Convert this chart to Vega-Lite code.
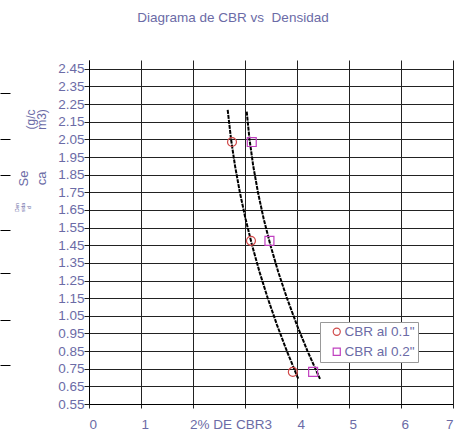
{
  "$schema": "https://vega.github.io/schema/vega-lite/v6.json",
  "width": 364,
  "height": 344,
  "autosize": {"type": "none"},
  "padding": {"left": 89, "top": 60, "right": 1, "bottom": 26},
  "background": "white",
  "config": {"font": "Liberation Sans", "view": {"stroke": null}},
  "title": {
    "text": "Diagrama de CBR vs\u00a0 Densidad",
    "fontSize": 13.5,
    "fontWeight": "normal",
    "color": "#6b6ba6",
    "anchor": "middle",
    "dx": -38,
    "baseline": "bottom",
    "offset": 22
  },
  "data": {
    "values": [
      {"kind": "point", "id": 1, "serie": "CBR al 0.1\"", "x": 2.75, "y": 2.035},
      {"kind": "point", "id": 1, "serie": "CBR al 0.1\"", "x": 3.115, "y": 1.475},
      {"kind": "point", "id": 1, "serie": "CBR al 0.1\"", "x": 3.92, "y": 0.732},
      {"kind": "point", "id": 2, "serie": "CBR al 0.2\"", "x": 3.13, "y": 2.035},
      {"kind": "point", "id": 2, "serie": "CBR al 0.2\"", "x": 3.47, "y": 1.475},
      {"kind": "point", "id": 2, "serie": "CBR al 0.2\"", "x": 4.31, "y": 0.732},
      {"kind": "curve", "id": 1, "x": 2.667, "y": 2.217},
      {"kind": "curve", "id": 1, "x": 2.732, "y": 2.05},
      {"kind": "curve", "id": 1, "x": 2.808, "y": 1.9},
      {"kind": "curve", "id": 1, "x": 2.901, "y": 1.75},
      {"kind": "curve", "id": 1, "x": 3.010, "y": 1.6},
      {"kind": "curve", "id": 1, "x": 3.136, "y": 1.45},
      {"kind": "curve", "id": 1, "x": 3.278, "y": 1.3},
      {"kind": "curve", "id": 1, "x": 3.437, "y": 1.15},
      {"kind": "curve", "id": 1, "x": 3.613, "y": 1.0},
      {"kind": "curve", "id": 1, "x": 3.805, "y": 0.85},
      {"kind": "curve", "id": 1, "x": 4.025, "y": 0.692},
      {"kind": "curve", "id": 2, "x": 3.033, "y": 2.207},
      {"kind": "curve", "id": 2, "x": 3.087, "y": 2.05},
      {"kind": "curve", "id": 2, "x": 3.158, "y": 1.9},
      {"kind": "curve", "id": 2, "x": 3.249, "y": 1.75},
      {"kind": "curve", "id": 2, "x": 3.359, "y": 1.6},
      {"kind": "curve", "id": 2, "x": 3.489, "y": 1.45},
      {"kind": "curve", "id": 2, "x": 3.638, "y": 1.3},
      {"kind": "curve", "id": 2, "x": 3.807, "y": 1.15},
      {"kind": "curve", "id": 2, "x": 3.995, "y": 1.0},
      {"kind": "curve", "id": 2, "x": 4.202, "y": 0.85},
      {"kind": "curve", "id": 2, "x": 4.442, "y": 0.692}
    ]
  },
  "encoding": {
    "x": {
      "field": "x",
      "type": "quantitative",
      "scale": {"domain": [0, 7], "nice": false, "zero": false},
      "axis": {
        "values": [0, 1, 2, 3, 4, 5, 6, 7],
        "labelExpr": "datum.value == 2 || datum.value == 3 ? '' : datum.label",
        "title": "2% DE CBR3",
        "titleX": 141.5,
        "titleY": 24,
        "titleAlign": "center",
        "titleBaseline": "alphabetic",
        "titleFontSize": 13.5,
        "titleFontWeight": "normal",
        "titleColor": "#6b6ba6",
        "labelFontSize": 13.5,
        "labelColor": "#6b6ba6",
        "labelAlign": {"condition": {"test": "datum.value == 7", "value": "right"}, "value": "left"},
        "labelDx": 3,
        "labelPadding": 9,
        "labelFlush": false,
        "labelOverlap": false,
        "labelBound": false,
        "tickSize": 4,
        "tickColor": "#222222",
        "domainColor": "#000000",
        "grid": true,
        "gridColor": "#222222",
        "gridOpacity": 1
      }
    }
  },
  "layer": [
    {
      "transform": [{"filter": "datum.kind == 'curve' && datum.id == 1"}],
      "mark": {"type": "line", "color": "#000000", "strokeWidth": 2, "strokeDash": [4, 1]},
      "encoding": {
        "y": {
          "field": "y",
          "type": "quantitative",
          "scale": {"domain": [0.55, 2.5], "nice": false, "zero": false},
          "axis": {
            "orient": "left",
            "labels": false,
            "ticks": false,
            "domain": false,
            "grid": false,
            "title": ["Se", "ca"],
            "titleX": -62,
            "titleY": 118,
            "titleAngle": 270,
            "titleAlign": "center",
            "titleBaseline": "alphabetic",
            "titleFontSize": 13,
            "titleLineHeight": 18,
            "titleFontWeight": "normal",
            "titleColor": "#6b6ba6"
          }
        }
      }
    },
    {
      "transform": [{"filter": "datum.kind == 'curve' && datum.id == 2"}],
      "mark": {"type": "line", "color": "#000000", "strokeWidth": 2, "strokeDash": [4, 1]},
      "encoding": {
        "y": {
          "field": "y",
          "type": "quantitative",
          "scale": {"domain": [0.55, 2.5], "nice": false, "zero": false},
          "axis": {
            "orient": "left",
            "offset": 79,
            "values": [2.313, 2.052, 1.848, 1.536, 1.293, 1.026, 0.771],
            "labels": false,
            "ticks": true,
            "tickSize": 10,
            "tickColor": "#000000",
            "domain": false,
            "grid": false,
            "title": ["Den", "sida", "d"],
            "titleX": 8,
            "titleY": 147,
            "titleAngle": 270,
            "titleAlign": "center",
            "titleBaseline": "alphabetic",
            "titleFontSize": 5,
            "titleLineHeight": 6,
            "titleFontWeight": "normal",
            "titleColor": "#6b6ba6"
          }
        }
      }
    },
    {
      "transform": [{"filter": "datum.kind == 'point'"}],
      "mark": {"type": "point", "filled": false, "strokeWidth": 1.2, "size": 80, "opacity": 1},
      "encoding": {
        "y": {
          "field": "y",
          "type": "quantitative",
          "scale": {"domain": [0.55, 2.5], "nice": false, "zero": false},
          "axis": {
            "orient": "left",
            "values": [0.55, 0.65, 0.75, 0.85, 0.95, 1.05, 1.15, 1.25, 1.35, 1.45, 1.55, 1.65, 1.75, 1.85, 1.95, 2.05, 2.15, 2.25, 2.35, 2.45],
            "format": ".2f",
            "labelFontSize": 13.5,
            "labelColor": "#6b6ba6",
            "labelPadding": 0,
            "labelOverlap": false,
            "labelFlush": false,
            "labelBound": false,
            "tickSize": 5,
            "tickColor": "#222222",
            "domainColor": "#000000",
            "grid": true,
            "gridColor": "#222222",
            "gridOpacity": 1,
            "title": ["(g/c", "m3)"],
            "titleX": -55,
            "titleY": 59,
            "titleAngle": 270,
            "titleAlign": "center",
            "titleBaseline": "alphabetic",
            "titleFontSize": 12,
            "titleLineHeight": 11,
            "titleFontWeight": "normal",
            "titleColor": "#6b6ba6"
          }
        },
        "color": {
          "field": "serie",
          "type": "nominal",
          "scale": {"domain": ["CBR al 0.1\"", "CBR al 0.2\""], "range": ["#d04a4a", "#c040c0"]},
          "legend": {
            "title": null,
            "orient": "none",
            "legendX": 231,
            "legendY": 262,
            "padding": 3,
            "symbolOffset": 7,
            "fillColor": "white",
            "strokeColor": "#999999",
            "labelFontSize": 13.5,
            "labelColor": "#6b6ba6",
            "labelOffset": 1,
            "labelExpr": "datum.label + '\u00a0\u00a0\u00a0'",
            "symbolSize": 50,
            "symbolStrokeWidth": 1.2,
            "rowPadding": 5
          }
        },
        "shape": {
          "field": "serie",
          "type": "nominal",
          "scale": {"domain": ["CBR al 0.1\"", "CBR al 0.2\""], "range": ["circle", "square"]},
          "legend": {
            "title": null,
            "orient": "none",
            "legendX": 231,
            "legendY": 262,
            "padding": 3,
            "symbolOffset": 7,
            "fillColor": "white",
            "strokeColor": "#999999",
            "labelFontSize": 13.5,
            "labelColor": "#6b6ba6",
            "labelOffset": 1,
            "labelExpr": "datum.label + '\u00a0\u00a0\u00a0'",
            "symbolSize": 50,
            "symbolStrokeWidth": 1.2,
            "rowPadding": 5
          }
        }
      }
    }
  ],
  "resolve": {"scale": {"y": "independent"}, "axis": {"y": "independent"}}
}
